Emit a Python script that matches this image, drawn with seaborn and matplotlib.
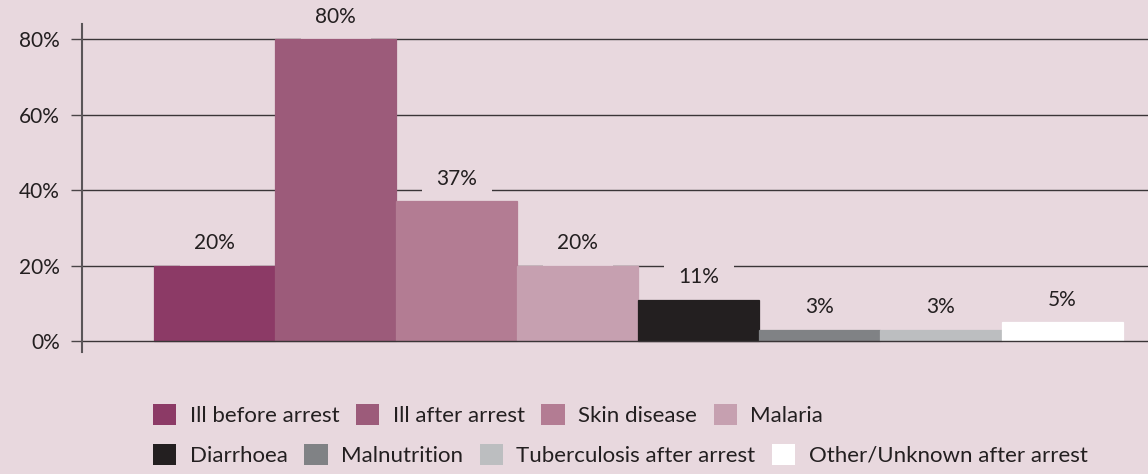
import matplotlib
matplotlib.use("Agg")
import matplotlib.pyplot as plt
import matplotlib.patches as mpatches
import seaborn as sns
import pandas as pd

categories = ["Ill before arrest", "Ill after arrest", "Skin disease", "Malaria",
              "Diarrhoea", "Malnutrition", "Tuberculosis after arrest",
              "Other/Unknown after arrest"]
values = [20, 80, 37, 20, 11, 3, 3, 5]
colors = ["#8c3a66", "#9c5b7a", "#b37c93", "#c6a0b0",
          "#231f20", "#808285", "#bcbec0", "#ffffff"]
yticks = [0, 20, 40, 60, 80]
ytick_labels = ["0%", "20%", "40%", "60%", "80%"]

BG = "#e8d8de"
TEXT = "#231f20"

sns.set_theme(style="white")
plt.rcParams["font.family"] = ["Lato", "DejaVu Sans"]

fig = plt.figure(figsize=(11.48, 4.74), dpi=100, facecolor=BG)
ax = fig.add_axes([82 / 1148, 1 - 352 / 474, (1148 - 82) / 1148, (352 - 24) / 474])
ax.set_facecolor(BG)

df = pd.DataFrame({"category": categories, "value": values})
sns.barplot(data=df, x="category", y="value", hue="category", order=categories,
            hue_order=categories, palette=colors, width=1.0, legend=False,
            saturation=1, ax=ax, linewidth=0)
for p in ax.patches:
    p.set_zorder(3)
    p.set_edgecolor(p.get_facecolor())
    p.set_linewidth(0.9)

ax.set_xlim(-1.095, 7.71)
ax.set_ylim(-2.9, 84)
ax.set_xticks([])
ax.set_xlabel("")
ax.set_ylabel("")
ax.set_yticks(yticks)
ax.set_yticklabels(ytick_labels, fontsize=15, color=TEXT)
ax.tick_params(axis="y", which="both", direction="out", length=8, width=1,
               color="#4a4547", pad=8, left=True)

for y in yticks:
    ax.axhline(y, color="#3a3537", lw=1.0, zorder=3.5 if y == 0 else 1)

for s in ["top", "right", "bottom"]:
    ax.spines[s].set_visible(False)
ax.spines["left"].set_color("#5a5558")
ax.spines["left"].set_linewidth(1.5)
ax.spines["left"].set_zorder(4)

# value labels sit on a background-coloured box that breaks the gridlines
for i, v in enumerate(values):
    ax.annotate(f"{v}%", xy=(i, v), xytext=(0, 9), textcoords="offset points",
                ha="center", va="bottom", fontsize=15, color=TEXT, zorder=2,
                bbox=dict(boxstyle="square,pad=0.7", fc=BG, ec="none"))

handles = [mpatches.Patch(facecolor=c, edgecolor="none", label=l)
           for c, l in zip(colors, categories)]
common = dict(frameon=False, fontsize=16, handlelength=1.05, handleheight=1.05,
              handletextpad=0.6, columnspacing=0.75, borderaxespad=0, borderpad=0,
              labelcolor=TEXT)
fig.legend(handles=handles[:4], ncol=4, loc="center left",
           bbox_to_anchor=(153 / 1148, 1 - 415 / 474), **common)
fig.legend(handles=handles[4:], ncol=4, loc="center left",
           bbox_to_anchor=(153 / 1148, 1 - 455 / 474), **common)

fig.savefig("out.png", dpi=100, facecolor=BG)
